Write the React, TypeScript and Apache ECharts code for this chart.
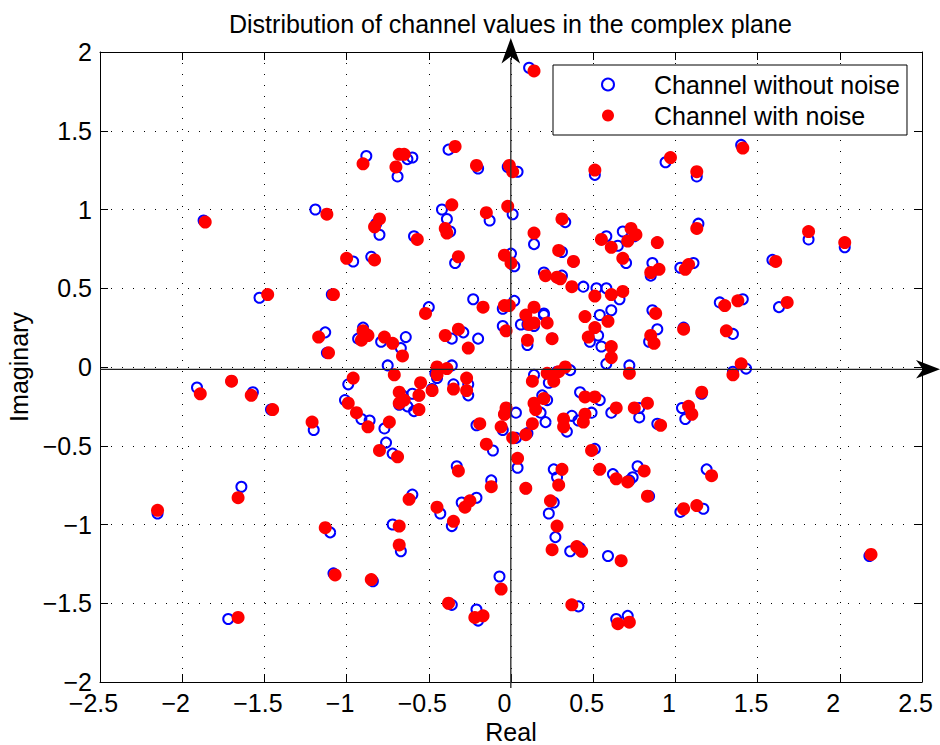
import React, { useEffect, useRef } from "react";
import * as echarts from "echarts";

// Channel samples (clean = without noise, noisy = with noise)
const cleanRe = [
  -1.87, -1.53, -1.19, -1.13, -1.09, -1.12, -0.88, -0.63, -0.6, -0.69, -0.38, -0.2, 0.04, -0.02, -0.82, -0.8, -0.59, -0.42, -0.39, -0.37,
  -0.13, 0.01, -0.96, -0.85, -0.34, 0.0, 0.02, -0.5, -0.23, 0.02, -0.05, -0.9, -0.93, -0.88, -0.79, -0.67, -0.64, -0.75, -0.36, -0.29,
  -0.2, -0.36, -0.45, -0.46, -0.05, 0.11, 0.51, 0.94, 1.13, 0.33, 0.14, 0.31, 0.38, 0.58, 0.65, 0.68, 0.75, 0.71, 0.7, 0.89,
  1.14, 0.86, 0.85, 1.03, 1.11, 0.2, 0.31, 0.28, 0.44, 0.52, 0.58, 0.66, 1.27, 1.41, 0.06, 0.14, 0.2, 0.2, 0.1, 0.1,
  0.25, 0.54, 0.53, 0.61, 0.48, 0.55, 0.58, 0.72, 0.86, 0.89, 0.84, 1.05, 1.4, 1.81, 2.03, 1.59, 1.63, 1.35, 1.43, 1.35,
  -1.91, -1.7, -1.57, -1.46, -1.2, -1.64, -2.15, -1.72, -0.99, -0.66, -0.63, -0.68, -0.6, -0.56, -0.59, -0.48, -0.35, -0.26, -0.26, -1.01,
  -0.91, -0.86, -0.77, -0.76, -0.72, -0.05, 0.03, -0.04, 0.03, -0.21, -0.11, 0.04, -0.33, -0.12, -0.6, -0.43, -0.3, -0.21, -0.36, -1.1,
  -0.72, -0.67, -1.08, -0.84, -0.07, -0.36, -0.21, -0.2, 0.14, 0.23, 0.22, 0.36, 0.28, 0.42, 0.54, 0.61, 0.78, 0.78, 0.89, 1.16,
  1.04, 1.06, 0.19, 0.22, 0.18, 0.21, 0.1, 0.37, 0.34, 0.49, 0.41, 0.51, 0.26, 0.28, 0.09, 0.62, 0.74, 0.77, 0.72, 0.84,
  1.19, 1.03, 1.17, 0.26, 0.23, 0.27, 0.36, 0.42, 0.59, 0.41, 0.64, 0.71, 2.18,
];
const cleanIm = [
  0.93, 0.44, 1.0, 0.22, 0.46, 0.09, 1.34, 1.32, 1.33, 1.21, 1.38, 1.26, 1.24, 1.27, 0.91, 0.84, 0.83, 1.0, 0.94, 0.86,
  0.93, 0.97, 0.67, 0.7, 0.66, 0.72, 0.64, 0.38, 0.43, 0.42, 0.37, 0.25, 0.18, 0.21, 0.16, 0.12, 0.19, 0.01, 0.18, 0.22,
  0.18, 0.01, -0.07, -0.04, 0.26, 1.9, 1.22, 1.3, 1.21, 0.92, 0.78, 0.73, 0.67, 0.83, 0.77, 0.86, 0.83, 0.8, 0.66, 0.79,
  0.91, 0.66, 0.58, 0.63, 0.66, 0.6, 0.58, 0.57, 0.51, 0.5, 0.5, 0.43, 0.41, 0.43, 0.27, 0.26, 0.34, 0.33, 0.27, 0.14,
  0.18, 0.33, 0.2, 0.36, 0.16, 0.13, 0.02, 0.01, 0.36, 0.24, 0.16, 0.25, 1.41, 0.81, 0.76, 0.68, 0.38, 0.21, -0.01, -0.03,
  -0.13, -0.09, -0.16, -0.27, -0.4, -0.76, -0.93, -1.6, -0.11, -0.18, -0.25, -0.24, -0.17, -0.18, -0.28, -0.14, -0.11, -0.11, -0.18, -0.21,
  -0.33, -0.34, -0.39, -0.48, -0.55, -0.4, -0.29, -0.3, -0.45, -0.37, -0.53, -0.64, -0.63, -0.72, -0.81, -0.93, -0.86, -0.83, -1.01, -1.05,
  -1.0, -1.17, -1.31, -1.36, -1.33, -1.51, -1.54, -1.61, -0.05, -0.1, -0.04, -0.02, -0.03, -0.16, -0.21, -0.29, -0.26, -0.32, -0.36, -0.17,
  -0.26, -0.33, -0.18, -0.21, -0.29, -0.35, -0.42, -0.31, -0.41, -0.29, -0.34, -0.52, -0.65, -0.7, -0.77, -0.68, -0.7, -0.63, -0.72, -0.82,
  -0.65, -0.92, -0.9, -0.86, -0.93, -1.08, -1.17, -1.15, -1.2, -1.52, -1.6, -1.58, -1.2,
];
const noisyRe = [
  -1.86, -1.48, -1.12, -1.17, -1.08, -1.11, -0.9, -0.68, -0.65, -0.7, -0.34, -0.21, 0.01, -0.01, -0.8, -0.83, -0.57, -0.36, -0.4, -0.39,
  -0.15, -0.02, -1.0, -0.83, -0.32, -0.04, 0.0, -0.52, -0.17, -0.01, -0.04, -0.9, -0.91, -0.87, -0.77, -0.66, -0.72, -0.71, -0.4, -0.32,
  -0.26, -0.39, -0.45, -0.45, -0.03, 0.14, 0.51, 0.97, 1.13, 0.31, 0.14, 0.29, 0.38, 0.55, 0.61, 0.73, 0.76, 0.71, 0.68, 0.89,
  1.13, 0.85, 0.9, 1.06, 1.08, 0.21, 0.3, 0.28, 0.37, 0.51, 0.61, 0.68, 1.3, 1.38, 0.09, 0.14, 0.14, 0.22, 0.11, 0.1,
  0.25, 0.45, 0.51, 0.59, 0.47, 0.61, 0.61, 0.72, 0.88, 0.85, 0.87, 1.05, 1.41, 1.81, 2.03, 1.61, 1.68, 1.31, 1.4, 1.35,
  -1.89, -1.7, -1.58, -1.45, -1.21, -1.66, -2.15, -1.66, -0.96, -0.68, -0.65, -0.68, -0.55, -0.56, -0.56, -0.48, -0.35, -0.27, -0.27, -0.99,
  -0.94, -0.87, -0.74, -0.8, -0.69, -0.06, -0.03, -0.04, 0.01, -0.19, -0.15, 0.04, -0.32, -0.12, -0.62, -0.45, -0.28, -0.25, -0.35, -1.13,
  -0.68, -0.68, -1.07, -0.85, -0.06, -0.38, -0.22, -0.17, 0.13, 0.26, 0.22, 0.33, 0.29, 0.45, 0.51, 0.64, 0.75, 0.83, 0.91, 1.16,
  1.08, 1.1, 0.2, 0.14, 0.15, 0.13, 0.09, 0.32, 0.32, 0.45, 0.44, 0.49, 0.31, 0.29, 0.09, 0.54, 0.64, 0.81, 0.71, 0.83,
  1.22, 1.05, 1.13, 0.24, 0.28, 0.25, 0.4, 0.43, 0.67, 0.37, 0.65, 0.72, 2.19,
];
const noisyIm = [
  0.92, 0.46, 0.97, 0.19, 0.46, 0.09, 1.29, 1.35, 1.35, 1.27, 1.4, 1.28, 1.24, 1.28, 0.94, 0.89, 0.81, 1.03, 0.88, 0.85,
  0.98, 1.02, 0.69, 0.68, 0.7, 0.71, 0.66, 0.34, 0.38, 0.39, 0.39, 0.23, 0.17, 0.2, 0.19, 0.07, 0.15, -0.05, 0.2, 0.24,
  0.12, -0.01, 0.0, -0.05, 0.23, 1.88, 1.25, 1.33, 1.24, 0.94, 0.85, 0.74, 0.67, 0.81, 0.76, 0.88, 0.84, 0.8, 0.69, 0.79,
  0.88, 0.6, 0.62, 0.62, 0.65, 0.58, 0.56, 0.57, 0.51, 0.45, 0.46, 0.48, 0.39, 0.42, 0.33, 0.28, 0.38, 0.28, 0.27, 0.17,
  0.18, 0.32, 0.25, 0.29, 0.19, 0.13, 0.06, -0.04, 0.34, 0.2, 0.15, 0.24, 1.39, 0.86, 0.79, 0.67, 0.41, 0.23, 0.02, -0.05,
  -0.17, -0.09, -0.18, -0.27, -0.35, -0.83, -0.91, -1.59, -0.07, -0.16, -0.21, -0.23, -0.1, -0.18, -0.27, -0.15, -0.14, -0.07, -0.15, -0.23,
  -0.29, -0.38, -0.35, -0.53, -0.57, -0.38, -0.26, -0.3, -0.45, -0.36, -0.49, -0.58, -0.66, -0.76, -0.84, -0.89, -0.89, -0.85, -0.98, -1.02,
  -1.01, -1.13, -1.32, -1.35, -1.41, -1.5, -1.59, -1.58, -0.09, -0.09, -0.04, 0.0, -0.03, -0.19, -0.19, -0.26, -0.26, -0.23, -0.37, -0.16,
  -0.25, -0.3, -0.2, -0.23, -0.27, -0.36, -0.43, -0.33, -0.38, -0.3, -0.35, -0.53, -0.65, -0.75, -0.77, -0.65, -0.71, -0.66, -0.73, -0.82,
  -0.69, -0.9, -0.88, -0.85, -1.01, -1.16, -1.14, -1.17, -1.23, -1.51, -1.63, -1.62, -1.19,
];

const titleText = "Distribution of channel values in the complex plane";
const seriesNames = ["Channel without noise", "Channel with noise"];
const xName = "Real";
const yName = "Imaginary";

const FONT = "'Liberation Sans', Arial, Helvetica, sans-serif";
const fmt = (v: number) => String(v).replace("-", "\u2212");

export default function App() {
  const ref = useRef<HTMLDivElement>(null);
  useEffect(() => {
    if (!ref.current) return;
    const chart = echarts.init(ref.current, undefined, { renderer: "svg" });
    const clean = cleanRe.map((x, i) => [x, cleanIm[i]]);
    const noisy = noisyRe.map((x, i) => [x, noisyIm[i]]);
    const grid = "#000";
    const split = { show: true, lineStyle: { color: "#000", width: 1, type: [1, 10] as any } };
    chart.setOption({
      animation: false,
      backgroundColor: "#fff",
      textStyle: { fontFamily: FONT },
      title: {
        text: titleText,
        left: 229,
        top: 11,
        padding: 0,
        textStyle: { fontFamily: FONT, fontSize: 25, fontWeight: "normal", color: "#000" },
      },
      legend: {
        data: seriesNames,
        orient: "vertical",
        left: 553,
        top: 65,
        padding: [7, 7, 7, 48],
        itemWidth: 82,
        itemHeight: 12,
        itemGap: 6,
        borderColor: "#000",
        borderWidth: 1,
        backgroundColor: "#fff",
        borderRadius: 0,
        textStyle: { fontFamily: FONT, fontSize: 25, color: "#000" },
      },
      grid: { left: 100, right: 18, top: 52, bottom: 63, containLabel: false, outerBoundsMode: "none" },
      xAxis: [
        {
          type: "value",
          min: -2.5,
          max: 2.5,
          interval: 0.5,
          name: xName,
          nameLocation: "middle",
          nameGap: 36,
          nameTextStyle: { fontFamily: FONT, fontSize: 25, color: "#000" },
          axisLine: { show: true, onZero: false, lineStyle: { color: grid, width: 1 } },
          axisTick: { show: true, inside: true, length: 8, lineStyle: { color: grid } },
          axisLabel: {
            fontFamily: FONT,
            fontSize: 25,
            color: "#000",
            margin: 8,
            padding: [0, 13, 0, 0],
            formatter: fmt,
          },
          splitLine: split,
        },
        {
          type: "value",
          position: "top",
          min: -2.5,
          max: 2.5,
          interval: 0.5,
          axisLine: { show: true, onZero: false, lineStyle: { color: grid, width: 1 } },
          axisTick: { show: true, inside: true, length: 8, lineStyle: { color: grid } },
          axisLabel: { show: false },
          splitLine: { show: false },
        },
      ],
      yAxis: [
        {
          type: "value",
          min: -2,
          max: 2,
          interval: 0.5,
          name: yName,
          nameLocation: "middle",
          nameGap: 66,
          nameRotate: 90,
          nameTextStyle: { fontFamily: FONT, fontSize: 25, color: "#000" },
          axisLine: { show: true, onZero: false, lineStyle: { color: grid, width: 1 } },
          axisTick: { show: true, inside: true, length: 8, lineStyle: { color: grid } },
          axisLabel: {
            fontFamily: FONT,
            fontSize: 25,
            color: "#000",
            margin: 8,
            padding: [1, 0, 0, 0],
            formatter: fmt,
          },
          splitLine: split,
        },
        {
          type: "value",
          position: "right",
          min: -2,
          max: 2,
          interval: 0.5,
          axisLine: { show: true, onZero: false, lineStyle: { color: grid, width: 1 } },
          axisTick: { show: true, inside: true, length: 8, lineStyle: { color: grid } },
          axisLabel: { show: false },
          splitLine: { show: false },
        },
      ],
      series: [
        {
          name: seriesNames[0],
          type: "scatter",
          xAxisIndex: 0,
          yAxisIndex: 0,
          symbol: "circle",
          symbolSize: 10,
          itemStyle: { color: "rgba(255,255,255,0)", borderColor: "#0000ff", borderWidth: 2, opacity: 1 },
          data: clean,
        },
        {
          name: seriesNames[1],
          type: "scatter",
          xAxisIndex: 0,
          yAxisIndex: 0,
          symbol: "circle",
          symbolSize: 13,
          itemStyle: { color: "#ff0000", opacity: 1 },
          data: noisy,
        },
      ],
      graphic: [
        {
          type: "group",
          z: 100,
          children: [
            { type: "line", shape: { x1: 100, y1: 369.3, x2: 922, y2: 369.3 }, style: { stroke: "#222", lineWidth: 1.2 }, z: 100 },
            {
              type: "polygon",
              shape: { points: [[940, 369.3], [916, 360], [923, 369.3], [916, 378.6]] },
              style: { fill: "#000" },
              z: 100,
            },
            { type: "line", shape: { x1: 510.8, y1: 688, x2: 510.8, y2: 58 }, style: { stroke: "#333", lineWidth: 1.4 }, z: 100 },
            {
              type: "polygon",
              shape: { points: [[510.8, 38], [501.5, 63.5], [510.8, 56.5], [520.1, 63.5]] },
              style: { fill: "#000" },
              z: 100,
            },
          ],
        },
      ],
    });
    return () => chart.dispose();
  }, []);
  return (
    <div
      ref={ref}
      style={{ position: "fixed", left: 0, top: 0, width: 940, height: 745, background: "#fff" }}
    />
  );
}
